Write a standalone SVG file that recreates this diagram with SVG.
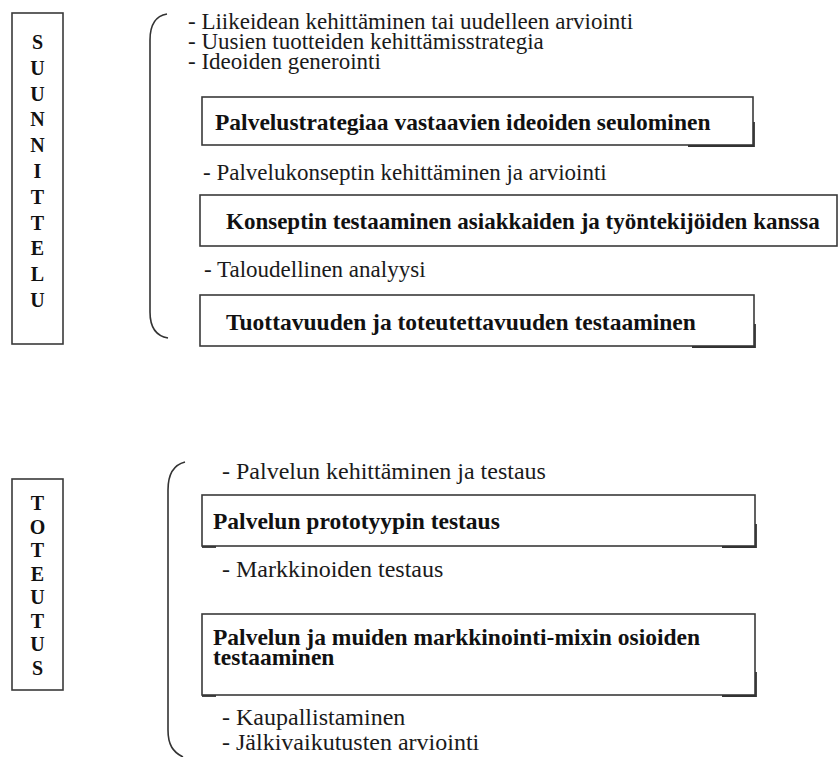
<svg xmlns="http://www.w3.org/2000/svg" width="839" height="757" viewBox="0 0 839 757">
<style>
.t{font-family:"Liberation Serif","Times New Roman",serif;font-size:23px;fill:#1a1a1a}
.t2{font-family:"Liberation Serif","Times New Roman",serif;font-size:24px;fill:#1a1a1a}
.b{font-family:"Liberation Serif","Times New Roman",serif;font-size:23.5px;font-weight:bold;fill:#111}
.v{font-family:"Liberation Serif","Times New Roman",serif;font-size:20px;font-weight:bold;fill:#111;text-anchor:middle}
.box{fill:#fff;stroke:#3a3a3a;stroke-width:1.6}
.sh{stroke:#333;stroke-width:1.8;fill:none}
.br{fill:none;stroke:#333;stroke-width:1.6}
</style>
<rect width="839" height="757" fill="#fff"/>
<g id="suunnittelu">
<rect class="box" x="12" y="13" width="51" height="331"/>
<text class="v" x="37.5" y="49">S</text>
<text class="v" x="37.5" y="75">U</text>
<text class="v" x="37.5" y="101">U</text>
<text class="v" x="37.5" y="126">N</text>
<text class="v" x="37.5" y="152">N</text>
<text class="v" x="37.5" y="178">I</text>
<text class="v" x="37.5" y="204">T</text>
<text class="v" x="37.5" y="230">T</text>
<text class="v" x="37.5" y="255">E</text>
<text class="v" x="37.5" y="281">L</text>
<text class="v" x="37.5" y="307">U</text>
</g>
<g id="toteutus">
<rect class="box" x="12" y="479" width="51" height="211"/>
<text class="v" x="37.5" y="510">T</text>
<text class="v" x="37.5" y="533.5">O</text>
<text class="v" x="37.5" y="557">T</text>
<text class="v" x="37.5" y="580.5">E</text>
<text class="v" x="37.5" y="604">U</text>
<text class="v" x="37.5" y="627.5">T</text>
<text class="v" x="37.5" y="651">U</text>
<text class="v" x="37.5" y="674.5">S</text>
</g>
<g id="connectors">
<path class="br" d="M167,14 C155,16 150,25 150,40 L150,312 C150,328 156,336 168,338"/>
<path class="br" d="M185,462 C173,465 168,475 168,490 L168,730 C168,745 173,752 183,757"/>
</g>
<g id="plan-notes">
<text class="t" x="188" y="29">- Liikeidean kehittäminen tai uudelleen arviointi</text>
<text class="t" x="188" y="49">- Uusien tuotteiden kehittämisstrategia</text>
<text class="t" x="188" y="68.5">- Ideoiden generointi</text>
<text class="t" x="203" y="179.5">- Palvelukonseptin kehittäminen ja arviointi</text>
<text class="t" x="204" y="276.5">- Taloudellinen analyysi</text>
</g>
<g id="box-seulominen">
<rect class="box" x="202" y="97" width="551" height="48"/>
<path class="sh" d="M688,146 H754 V122"/>
<text class="b" x="215" y="129.5">Palvelustrategiaa vastaavien ideoiden seulominen</text>
</g>
<g id="box-konseptin">
<rect class="box" x="200" y="195" width="637" height="51"/>
<text class="b" x="226" y="229" style="font-size:23px">Konseptin testaaminen asiakkaiden ja työntekijöiden kanssa</text>
</g>
<g id="box-tuottavuuden">
<rect class="box" x="200" y="295" width="554" height="51"/>
<path class="sh" d="M692,347 H755 V324"/>
<text class="b" x="226" y="329.5">Tuottavuuden ja toteutettavuuden testaaminen</text>
</g>
<g id="impl-notes">
<text class="t2" x="222" y="478.5">- Palvelun kehittäminen ja testaus</text>
<text class="t2" x="222" y="576.5">- Markkinoiden testaus</text>
<text class="t2" x="222" y="724.5">- Kaupallistaminen</text>
<text class="t2" x="222" y="749.5">- Jälkivaikutusten arviointi</text>
</g>
<g id="box-prototyyppi">
<rect class="box" x="202" y="495" width="553" height="51"/>
<path class="sh" d="M722,547 H756 V524"/>
<path class="sh" d="M202,547 H216"/>
<text class="b" x="213" y="528.5">Palvelun prototyypin testaus</text>
</g>
<g id="box-markkinointimix">
<rect class="box" x="202" y="614" width="553" height="81"/>
<path class="sh" d="M722,696 H756 V672"/>
<path class="sh" d="M202,696 H216"/>
<text class="b" x="213" y="644.5">Palvelun ja muiden markkinointi-mixin osioiden</text>
<text class="b" x="213" y="664.5">testaaminen</text>
</g>
</svg>
